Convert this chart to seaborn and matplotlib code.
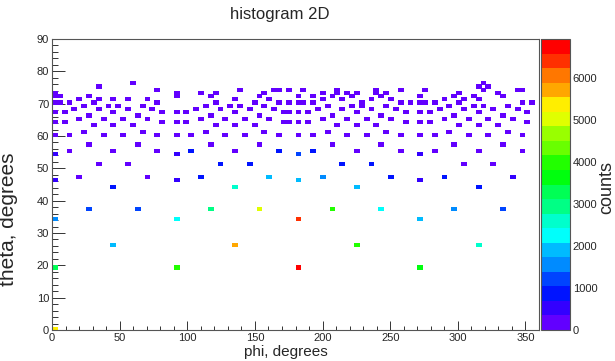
import numpy as np
import pandas as pd
import matplotlib
matplotlib.use("Agg")
import matplotlib.pyplot as plt
import seaborn as sns
from matplotlib.colors import ListedColormap
from matplotlib.ticker import MultipleLocator

# ---------------- data ----------------
# dense band of low-count cells: theta row (bin centre) -> phi positions
band_theta = [76.5, 75.5, 74.5, 73.5, 72.5, 71.5, 70.5, 69.5, 68.5,
              67.5, 66.5, 65.5, 64.5, 63.5, 61.5, 60.5, 57.5]
band_phi = [
    [59.4, 318.6],
    [34.2, 315.0, 322.2],
    [77.4, 138.6, 163.8, 167.4, 174.6, 185.4, 210.6, 239.4, 257.4, 275.4, 318.6, 343.8, 347.4],
    [1.8, 91.8, 109.8, 120.6, 156.6, 199.8, 210.6, 217.8, 225.0, 239.4, 246.6, 300.6, 329.4],
    [1.8, 5.4, 27.0, 91.8, 117.0, 153.0, 181.8, 192.6, 207.0, 221.4, 243.0, 271.8, 297.0, 311.4, 333.0],
    [19.8, 34.2, 45.0, 55.8, 70.2, 135.0, 160.2, 199.8, 214.2, 235.8, 250.2, 289.8, 304.2, 315.0],
    [1.8, 5.4, 12.6, 30.6, 77.4, 120.6, 149.4, 167.4, 174.6, 181.8, 185.4, 192.6, 228.6, 257.4,
     264.6, 271.8, 275.4, 282.6, 300.6, 347.4, 354.6],
    [23.4, 41.4, 48.6, 66.6, 113.4, 131.4, 138.6, 156.6, 203.4, 221.4, 228.6, 246.6, 293.4, 311.4, 318.6, 336.6],
    [16.2, 34.2, 55.8, 73.8, 106.2, 124.2, 145.8, 163.8, 196.2, 214.2, 235.8, 253.8, 286.2, 304.2, 325.8, 343.8],
    [1.8, 9.0, 45.0, 81.0, 91.8, 99.0, 135.0, 171.0, 174.6, 181.8, 189.0, 225.0, 261.0, 271.8, 279.0, 315.0, 351.0],
    [27.0, 63.0, 117.0, 153.0, 207.0, 243.0, 297.0, 333.0],
    [19.8, 37.8, 52.2, 70.2, 109.8, 127.8, 142.2, 160.2, 199.8, 217.8, 232.2, 250.2, 289.8, 307.8, 322.2, 340.2],
    [1.8, 9.0, 81.0, 91.8, 99.0, 171.0, 174.6, 181.8, 189.0, 261.0, 271.8, 279.0, 351.0],
    [30.6, 45.0, 59.4, 120.6, 135.0, 149.4, 210.6, 225.0, 239.4, 300.6, 315.0, 329.4],
    [23.4, 66.6, 113.4, 156.6, 203.4, 246.6, 293.4, 336.6],
    [1.8, 12.6, 37.8, 52.2, 77.4, 91.8, 102.6, 127.8, 142.2, 167.4, 181.8, 192.6, 217.8, 232.2,
     257.4, 271.8, 282.6, 307.8, 322.2, 347.4],
    [27.0, 63.0, 117.0, 153.0, 207.0, 243.0, 297.0, 333.0],
]
band_count = 150

# individual cells below the band
low_phi = [1.8, 91.8, 181.8, 271.8,
           12.6, 45.0, 77.4, 102.6, 135.0, 167.4, 192.6, 225.0, 257.4, 282.6, 315.0, 347.4,
           34.2, 55.8, 124.2, 145.8, 214.2, 235.8, 304.2, 325.8,
           19.8, 70.2, 109.8, 160.2, 199.8, 250.2, 289.8, 340.2,
           1.8, 91.8, 181.8, 271.8,
           45.0, 135.0, 225.0, 315.0,
           27.0, 63.0, 117.0, 153.0, 207.0, 243.0, 297.0, 333.0,
           1.8, 91.8, 181.8, 271.8,
           45.0, 135.0, 225.0, 315.0,
           1.8, 91.8, 181.8, 271.8,
           1.8]
low_theta = [54.5] * 4 + [55.5] * 12 + [51.5] * 8 + [47.5] * 8 + [46.5] * 4 + [44.5] * 4 \
    + [37.5] * 8 + [34.5] * 4 + [26.5] * 4 + [19.5] * 4 + [0.5]
low_counts = [500, 500, 1200, 500,
              150, 150, 150, 850, 150, 850, 850, 150, 150, 150, 150, 150,
              150, 150, 850, 850, 850, 850, 150, 150,
              150, 150, 850, 1900, 1550, 850, 850, 500,
              500, 500, 1900, 500,
              850, 2600, 1900, 850,
              1200, 1200, 2950, 5000, 4000, 2250, 1550, 1200,
              1550, 2250, 6400, 1900,
              1900, 5700, 4000, 2600,
              3300, 4000, 6900, 3650,
              5350]

z_max = 6920

# ---------------- assemble ----------------
phi_all, theta_all, cnt_all = [], [], []
for th, row in zip(band_theta, band_phi):
    for p in row:
        phi_all.append(p)
        theta_all.append(th)
        cnt_all.append(band_count)
phi_all += low_phi
theta_all += low_theta
cnt_all += low_counts
df = pd.DataFrame({"phi": phi_all, "theta": theta_all, "counts": cnt_all})

# ROOT "pretty" palette, 20 contour levels
palette = ["#6200ff", "#3300ff", "#0014ff", "#0044ff", "#008bff", "#00bbff", "#00fffb",
           "#00ffcc", "#00ff85", "#00ff55", "#00ff0e", "#22ff00", "#69ff00", "#99ff00",
           "#e0ff00", "#ffee00", "#ffa700", "#ff7700", "#ff3000", "#ff0000"]
cmap = ListedColormap(palette)

sns.set_theme(style="white")
plt.rcParams["font.family"] = ["Liberation Sans", "DejaVu Sans"]

fig = plt.figure(figsize=(6.15, 3.61), dpi=100)
ax = fig.add_axes([52 / 615, 1 - 330 / 361, 487 / 615, 291 / 361])
cax = fig.add_axes([541 / 615, 1 - 330 / 361, 29 / 615, 291 / 361])

phi_edges = np.linspace(0, 360, 101)
theta_edges = np.linspace(0, 90, 91)

sns.histplot(data=df, x="phi", y="theta", weights="counts",
             bins=[phi_edges, theta_edges], cmap=cmap, vmin=0, vmax=z_max,
             edgecolor="face", linewidth=0.5,
             cbar=True, cbar_ax=cax, ax=ax)

ax.set_xlim(0, 360)
ax.set_ylim(0, 90)
ax.xaxis.set_major_locator(MultipleLocator(50))
ax.xaxis.set_minor_locator(MultipleLocator(10))
ax.yaxis.set_major_locator(MultipleLocator(10))
ax.yaxis.set_minor_locator(MultipleLocator(2))
ax.tick_params(axis="x", which="major", direction="in", length=6.2, width=0.7,
               labelsize=8, pad=2, color="#333333", bottom=True)
ax.tick_params(axis="x", which="minor", direction="in", length=3, width=0.7,
               color="#333333", bottom=True)
ax.tick_params(axis="y", which="major", direction="in", length=9.4, width=0.7,
               labelsize=8, pad=2, color="#333333", left=True)
ax.tick_params(axis="y", which="minor", direction="in", length=4.3, width=0.7,
               color="#333333", left=True)
for s in ax.spines.values():
    s.set_color("#555555")
    s.set_linewidth(0.8)

ax.set_xlabel("phi, degrees", fontsize=11)
ax.set_ylabel("theta, degrees", fontsize=15)
ax.xaxis.set_label_coords(0.48, -0.05)
ax.yaxis.set_label_coords(-0.07, 0.38)

cax.tick_params(direction="in", length=9, width=0.7, labelsize=8, pad=2,
                right=True, color="#333333")
cax.yaxis.set_major_locator(MultipleLocator(1000))
cax.set_ylabel("counts", fontsize=13)
cax.yaxis.set_label_coords(1.98, 0.49)
for s in cax.spines.values():
    s.set_color("#555555")
    s.set_linewidth(0.8)

fig.text(280 / 615, 1 - 14 / 361, "histogram 2D", ha="center", va="center", fontsize=12)

fig.savefig("out.png", dpi=100, facecolor="white")
